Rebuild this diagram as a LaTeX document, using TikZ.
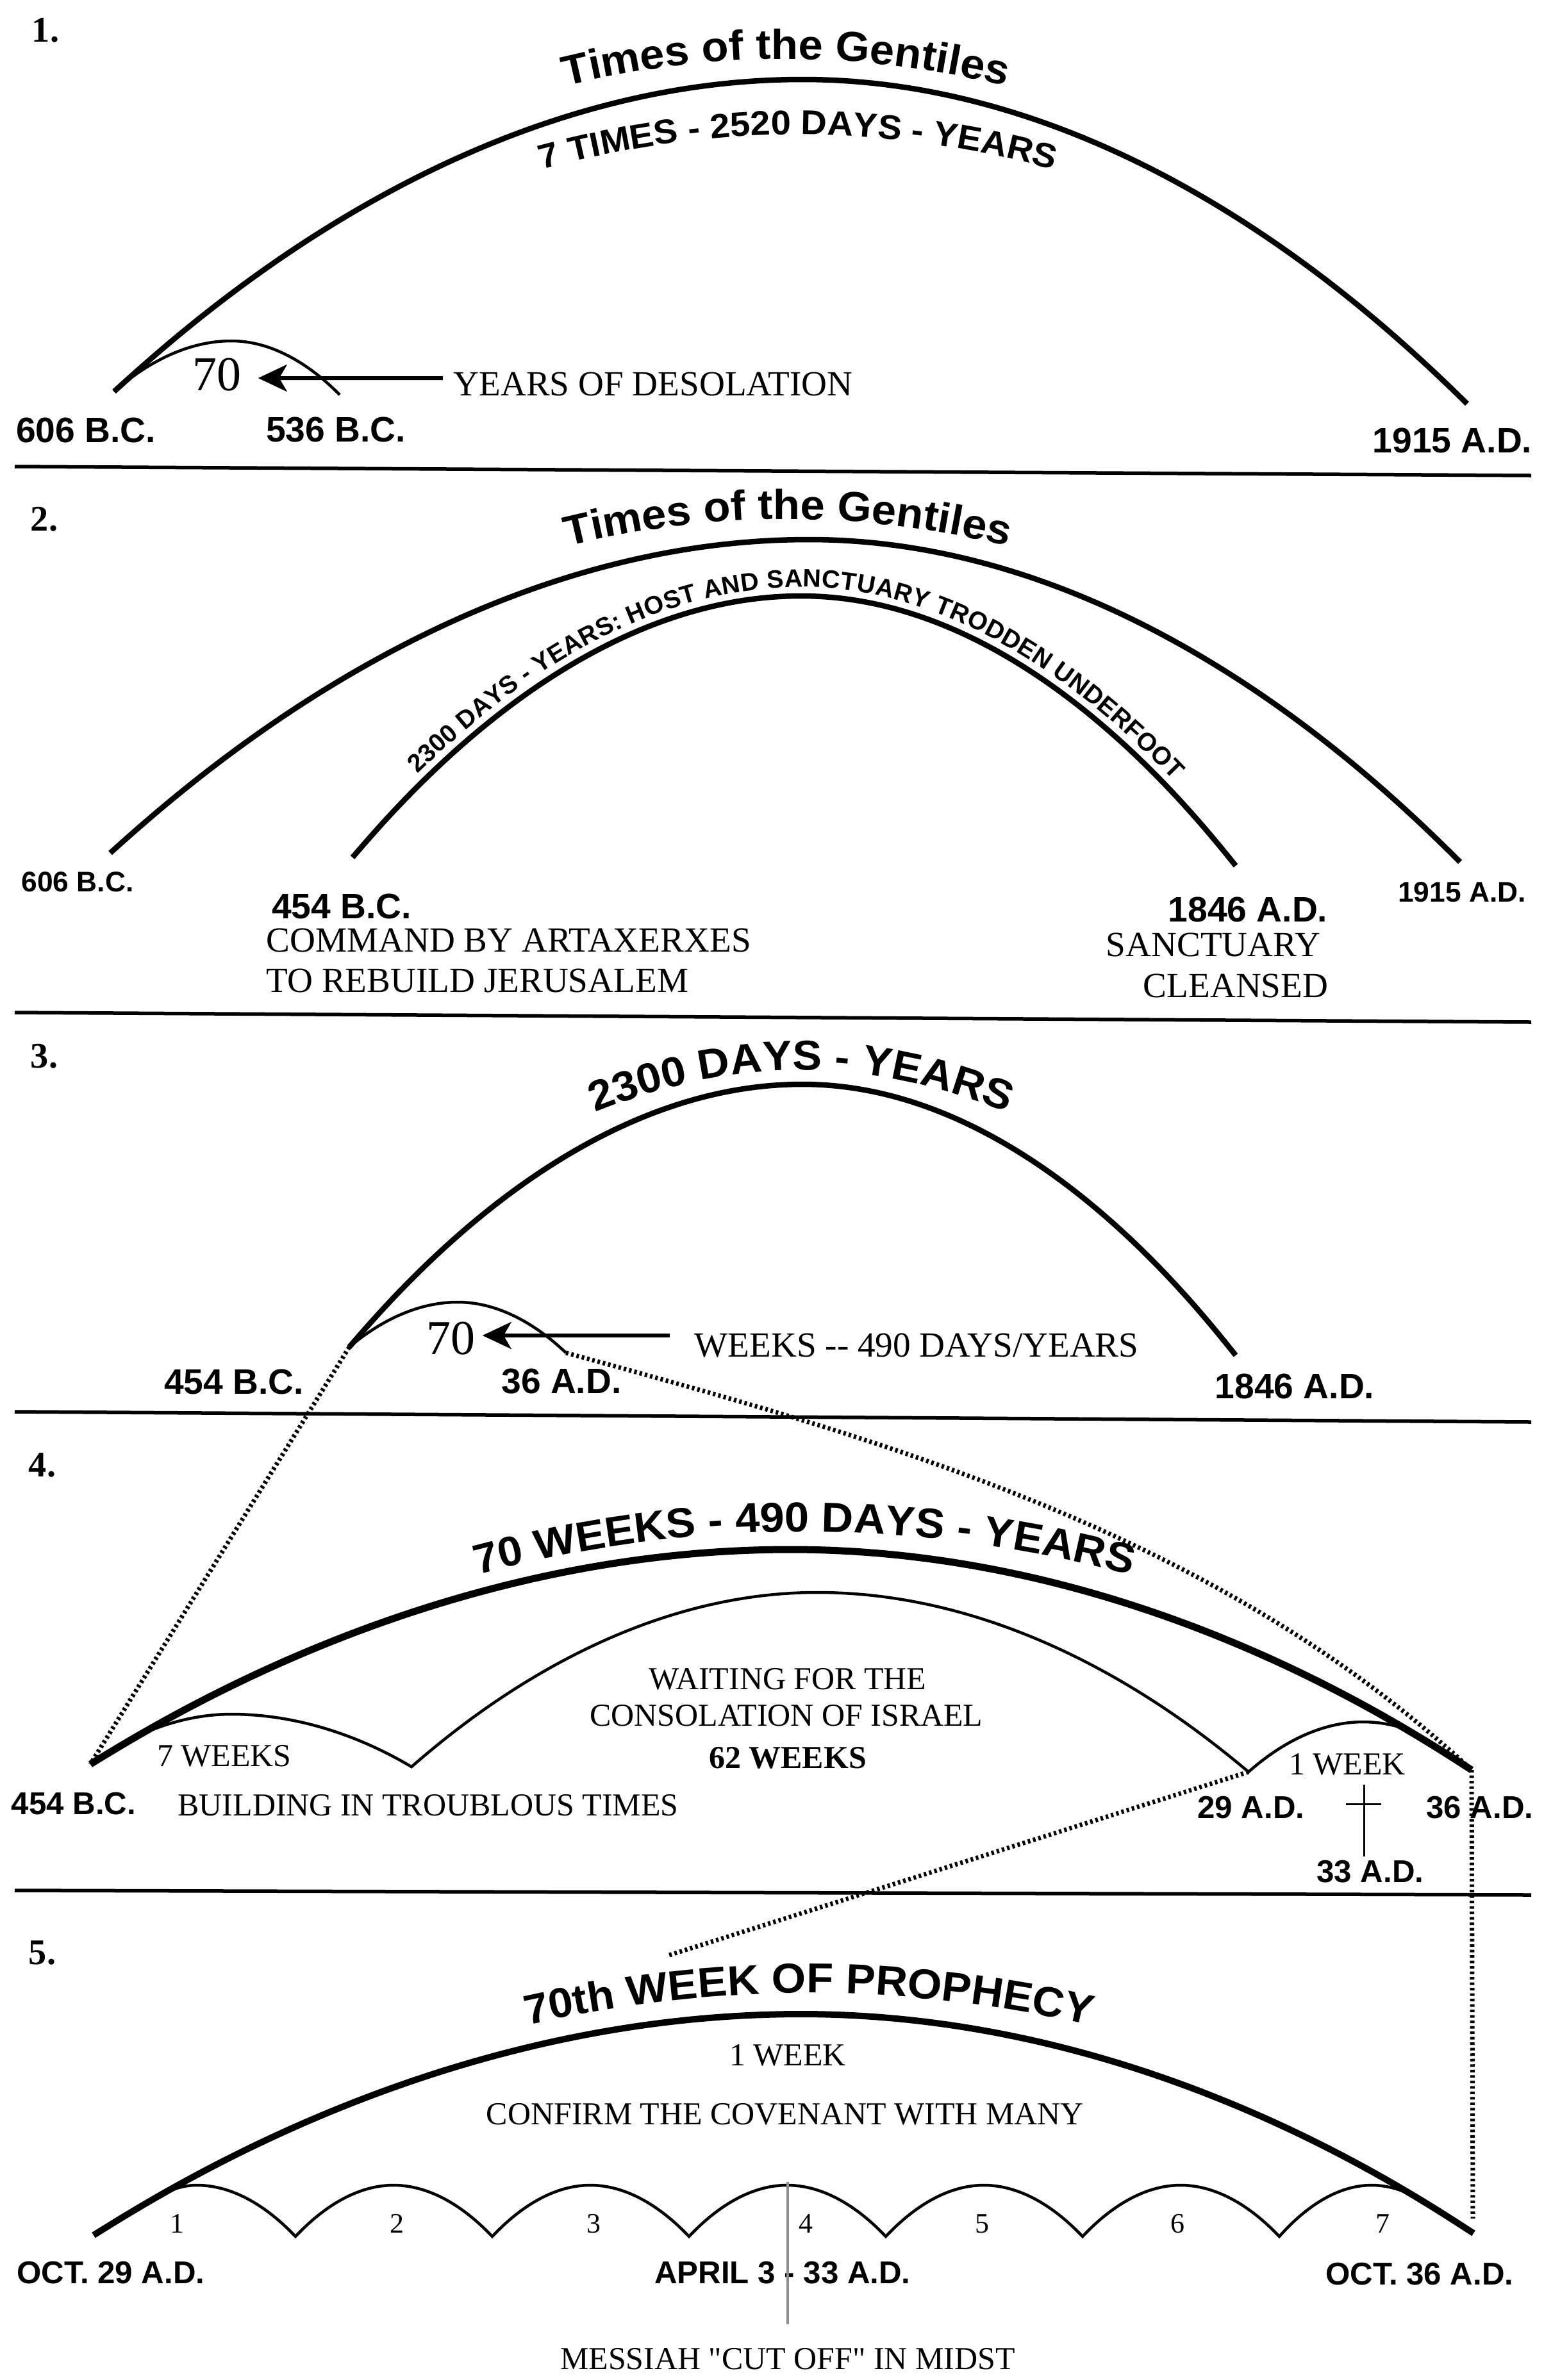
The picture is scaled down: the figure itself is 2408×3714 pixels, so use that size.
\documentclass[tikz,border=0pt]{standalone}
\usepackage{fontspec}
\setmainfont{Liberation Serif}[Ligatures=TeXOff]
\setsansfont{Liberation Sans}
\newfontfamily\ttlfont[FakeStretch=1.05]{Liberation Sans Bold}
\usetikzlibrary{decorations.text,arrows.meta}
\newcommand\fsz[1]{\fontsize{#1}{#1}\selectfont}
\newcommand\ttlA{\ttlfont\fontsize{18.6pt}{18.6pt}\selectfont}
\newcommand\ttlB{\ttlfont\fontsize{15.2pt}{15.2pt}\selectfont}
\newcommand\crvS{\sffamily\bfseries\fontsize{11.2pt}{11.2pt}\selectfont}
\tikzset{
  heavyarc/.style={line width=0.085cm},
  heavierarc/.style={line width=0.11cm},
  thinarc/.style={line width=0.045cm},
  sepline/.style={line width=0.055cm},
  dotline/.style={line width=0.07cm, dash pattern=on 0.04cm off 0.045cm},
  arr/.style={line width=0.06cm, -{Stealth[length=0.45cm,width=0.42cm,inset=0.12cm]}},
  secnum/.style={font={\bfseries\fsz{16pt}}, inner sep=0},
  lbA/.style={font={\sffamily\bfseries\fsz{15.7pt}}, inner sep=0},
  lbB/.style={font={\sffamily\bfseries\fsz{12.6pt}}, inner sep=0},
  lbC/.style={font={\sffamily\bfseries\fsz{14pt}}, inner sep=0},
  srA/.style={font={\fsz{15.7pt}}, inner sep=0},
  srC/.style={font={\fsz{14.2pt}}, inner sep=0},
  srN/.style={font={\fsz{12.5pt}}, inner sep=0},
  sev/.style={font={\fsz{21.6pt}}, inner sep=0},
  curvetext/.style={decorate, decoration={text along path, text align=center, text={#1}}},
}
\begin{document}
\begin{tikzpicture}[x=0.01cm,y=-0.01cm]
\useasboundingbox (0,0) rectangle (2408,3714);
\fill[white] (0,0) rectangle (2408,3714);

% ---------------- Section 1 ----------------
\node[secnum] (n1) at (71,47) {1.};
\coordinate (a1l) at (178,611);
\coordinate (a1p) at (1252,124);
\coordinate (a1r) at (2289,630);
\draw[heavyarc] (a1l) parabola bend (a1p) (a1r);
\coordinate (s1p) at (361,532);
\coordinate (s1r) at (530,616);
\draw[thinarc] (a1l) parabola bend (s1p) (s1r);
\path[curvetext={|\ttlA|Times of the Gentiles}] (726,182) parabola bend (1226,92) (1726,182);
\path[curvetext={|\ttlB|7 TIMES - 2520 DAYS - YEARS}] (695,314) parabola bend (1245,210) (1795,314);
\node[sev] (n70a) at (338,585) {70};
\node[srA, anchor=west] (yod) at (707,599) {YEARS OF DESOLATION};
\draw[arr] ([xshift=-0.16cm,yshift=0.09cm]yod.west) -- ([xshift=0.26cm,yshift=-0.05cm]n70a.east);
\node[lbA] (l606a) at (134,671) {606 B.C.};
\node[lbA] (l536) at (524,671) {536 B.C.};
\node[lbA] (l1915a) at (2266,687) {1915 A.D.};
\coordinate (sep1l) at (23,728);
\coordinate (sep1r) at (2389,742);
\draw[sepline] (sep1l) -- (sep1r);

% ---------------- Section 2 ----------------
\node[secnum] (n2) at (69,810) {2.};
\path[curvetext={|\ttlA|Times of the Gentiles}] (729,900) parabola bend (1229,810) (1729,900);
\coordinate (a2l) at (172,1331);
\coordinate (a2p) at (1262,842);
\coordinate (a2r) at (2278,1345);
\draw[heavyarc] (a2l) parabola bend (a2p) (a2r);
\coordinate (b2l) at (550,1338);
\coordinate (b2p) at (1250,930);
\coordinate (b2r) at (1928,1351);
\draw[heavyarc, postaction={decorate, decoration={text along path, text align=center, raise=0.14cm,
  text={|\crvS|2300 DAYS - YEARS: HOST AND SANCTUARY TRODDEN UNDERFOOT}}}]
  (b2l) parabola bend (b2p) (b2r);
\node[lbB] (l606b) at (121,1376) {606 B.C.};
\node[lbB] (l1915b) at (2281,1392) {1915 A.D.};
\node[lbA] (l454a) at (533,1414) {454 B.C.};
\node[lbA] (l1846a) at (1947,1419) {1846 A.D.};
\node[srA, anchor=west] (cmd1) at (415,1467) {COMMAND BY ARTAXERXES};
\node[srA, anchor=west] (cmd2) at (415,1530) {TO REBUILD JERUSALEM};
\node[srA] (sanc) at (1893,1474) {SANCTUARY};
\node[srA] (clean) at (1928,1538) {CLEANSED};
\coordinate (sep2l) at (23,1580);
\coordinate (sep2r) at (2389,1595);
\draw[sepline] (sep2l) -- (sep2r);

% ---------------- Section 3 ----------------
\node[secnum] (n3) at (69,1648) {3.};
\path[curvetext={|\ttlA|2300 DAYS - YEARS}] (750,1830) parabola bend (1250,1670) (1750,1830);
\coordinate (a3l) at (545,2102);
\coordinate (a3p) at (1252,1692);
\coordinate (a3r) at (1928,2115);
\draw[heavyarc] (a3l) parabola bend (a3p) (a3r);
\coordinate (s3p) at (714,2032);
\coordinate (s3r) at (883,2111);
\draw[thinarc] (a3l) parabola bend (s3p) (s3r);
\node[sev] (n70b) at (703,2089) {70};
\node[srA, anchor=west] (wk) at (1083,2100) {WEEKS -- 490 DAYS/YEARS};
\draw[arr] ([xshift=-0.38cm,yshift=0.16cm]wk.west) -- ([xshift=0.11cm,yshift=0.05cm]n70b.east);
\node[lbA] (l454b) at (365,2156) {454 B.C.};
\node[lbA] (l36a) at (876,2156) {36 A.D.};
\node[lbA] (l1846b) at (2020,2163) {1846 A.D.};
\coordinate (sep3l) at (23,2203);
\coordinate (sep3r) at (2389,2219);
\draw[sepline] (sep3l) -- (sep3r);

% ---------------- Section 4 ----------------
\node[secnum] (n4) at (66,2286) {4.};
\path[curvetext={|\ttlA|70 WEEKS - 490 DAYS - YEARS}] (655,2484) parabola bend (1255,2390) (1855,2484);
\coordinate (a4l) at (141,2753);
\coordinate (a4p) at (1233,2418);
\coordinate (a4r) at (2296,2762);
\draw[heavierarc] (a4l) parabola bend (a4p) (a4r);
\coordinate (w7s) at (215,2709);
\coordinate (w7p) at (361,2675);
\coordinate (w7r) at (642,2757);
\coordinate (w62p) at (1275,2485);
\coordinate (c29) at (1948,2765);
\coordinate (w1p) at (2127,2687);
\coordinate (w1e) at (2190,2697);
\draw[thinarc] (w7s) parabola bend (w7p) (w7r) parabola bend (w62p) (c29) parabola bend (w1p) (w1e);
\node[srC] (t7w) at (350,2740) {7 WEEKS};
\node[srC] (tw1) at (1229,2620) {WAITING FOR THE};
\node[srC] (tw2) at (1227,2677) {CONSOLATION OF ISRAEL};
\node[srC, font={\bfseries\fsz{14.2pt}}] (t62) at (1229,2743) {62 WEEKS};
\node[srC] (t1w) at (2102,2753) {1 WEEK};
\node[lbC] (l454c) at (115,2815) {454 B.C.};
\node[srC] (tbld) at (668,2817) {BUILDING IN TROUBLOUS TIMES};
\node[lbC] (l29) at (1952,2821) {29 A.D.};
\node[lbC] (l36b) at (2309,2821) {36 A.D.};
\node[lbC] (l33) at (2138,2921) {33 A.D.};
\coordinate (crT) at (2128,2785);
\coordinate (crL) at (2100,2815);
\coordinate (crR) at (2155,2815);
\draw[line width=0.03cm] (crT) -- ([yshift=0.06cm]crT |- l33.north);
\draw[line width=0.03cm] (crL) -- (crR);
\coordinate (sep4l) at (23,2950);
\coordinate (sep4r) at (2389,2957);
\draw[sepline] (sep4l) -- (sep4r);

% dotted connectors
\draw[dotline] (a3l) -- (a4l);
\draw[dotline] (s3r) .. controls (1370,2245) and (1890,2385) .. (a4r);
\coordinate (d3e) at (1044,3051);
\draw[dotline] (c29) -- (d3e);
\coordinate (d4e) at (2298,3462);
\draw[dotline] (a4r) -- (d4e);

% ---------------- Section 5 ----------------
\node[secnum] (n5) at (66,3047) {5.};
\path[curvetext={|\ttlA|70th WEEK OF PROPHECY}] (662,3204) parabola bend (1262,3110) (1862,3204);
\coordinate (a5l) at (146,3488);
\coordinate (a5p) at (1250,3143);
\coordinate (a5r) at (2299,3485);
\draw[line width=0.1cm] (a5l) parabola bend (a5p) (a5r);
\coordinate (c0) at (250,3426);
\coordinate (p1) at (307,3410);  \coordinate (c1) at (461,3490);
\coordinate (p2) at (614,3410);  \coordinate (c2) at (768,3490);
\coordinate (p3) at (921,3410);  \coordinate (c3) at (1075,3490);
\coordinate (p4) at (1228,3410); \coordinate (c4) at (1382,3490);
\coordinate (p5) at (1535,3410); \coordinate (c5) at (1689,3490);
\coordinate (p6) at (1842,3410); \coordinate (c6) at (1996,3490);
\coordinate (p7) at (2140,3410); \coordinate (c7) at (2210,3429);
\draw[thinarc] (c0) parabola bend (p1) (c1) parabola bend (p2) (c2) parabola bend (p3) (c3)
  parabola bend (p4) (c4) parabola bend (p5) (c5) parabola bend (p6) (c6) parabola bend (p7) (c7);
\node[srC] (t1wk) at (1229,3207) {1 WEEK};
\node[srC] (tconf) at (1225,3299) {CONFIRM THE COVENANT WITH MANY};
\node[srN] (k1) at (276,3470) {1};
\node[srN] (k2) at (619,3470) {2};
\node[srN] (k3) at (926,3470) {3};
\node[srN] (k4) at (1257,3470) {4};
\node[srN] (k5) at (1532,3470) {5};
\node[srN] (k6) at (1837,3470) {6};
\node[srN] (k7) at (2157,3470) {7};
\node[lbC] (loct29) at (173,3547) {OCT. 29 A.D.};
\node[lbC] (lapr) at (1221,3547) {APRIL 3 - 33 A.D.};
\node[lbC] (loct36) at (2215,3549) {OCT. 36 A.D.};
\node[srC] (tmess) at (1229,3681) {MESSIAH "CUT OFF" IN MIDST};
\coordinate (g1) at (1229,3405);
\coordinate (g2) at (1229,3627);
\draw[black!45, line width=0.04cm] (g1) -- (g2);
\end{tikzpicture}
\end{document}
